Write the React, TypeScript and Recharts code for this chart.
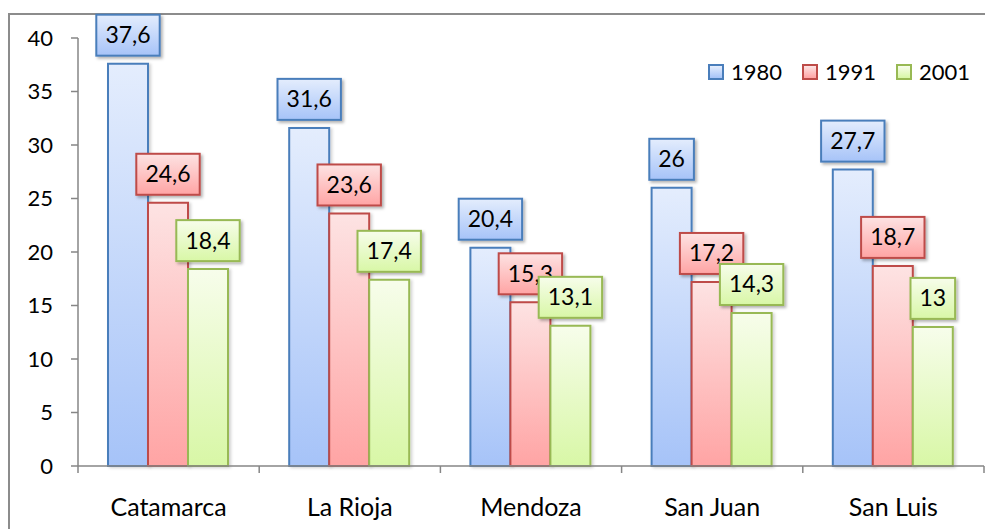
import { Bar, BarChart, LabelList, Legend, XAxis, YAxis } from 'recharts'

const provincias = ['Catamarca', 'La Rioja', 'Mendoza', 'San Juan', 'San Luis']
const v1980 = [37.6, 31.6, 20.4, 26, 27.7]
const v1991 = [24.6, 23.6, 15.3, 17.2, 18.7]
const v2001 = [18.4, 17.4, 13.1, 14.3, 13]
const yTicks = [0, 5, 10, 15, 20, 25, 30, 35, 40]

const series = [
  { key: 'a1980', name: '1980', stroke: '#4a7ebb', top: '#e4edfd', bottom: '#a6c3f8' },
  { key: 'a1991', name: '1991', stroke: '#be4b48', top: '#fde3e3', bottom: '#ffa4a4' },
  { key: 'a2001', name: '2001', stroke: '#98b954', top: '#f7fdeb', bottom: '#d8f7a6' },
]

const data = provincias.map((p, i) => ({
  provincia: p,
  a1980: v1980[i],
  a1991: v1991[i],
  a2001: v2001[i],
}))

const AXIS = '#868686'
const FONT = 'Lato, "Open Sans", sans-serif'

const fmt = (v: number) => String(v).replace('.', ',')

function makeLabel(s: (typeof series)[number]) {
  return (props: any) => {
    const { x, y, width, value } = props
    const text = fmt(Number(value))
    const tw = [...text].reduce((w, c) => w + (c === ',' ? 5.5 : 13.3), 0)
    const bw = tw + 18
    const bh = 41
    const cx = Number(x) + Number(width) / 2
    const by = Number(y) - 8 - bh
    return (
      <g>
        <rect
          x={cx - bw / 2}
          y={by}
          width={bw}
          height={bh}
          fill={`url(#g-${s.key})`}
          stroke={s.stroke}
          strokeWidth={2}
          filter="url(#shadow)"
        />
        <text x={cx} y={by + bh / 2 + 8} textAnchor="middle" fontSize={23} fill="#000">
          {text}
        </text>
      </g>
    )
  }
}

function CategoryTick(props: any) {
  const { x, y, payload, index } = props
  const half = payload.offset ?? 0
  const last = index === provincias.length - 1
  return (
    <g>
      <line x1={x - half} y1={y} x2={x - half} y2={y + 7} stroke={AXIS} strokeWidth={1.5} />
      {last && <line x1={x + half} y1={y} x2={x + half} y2={y + 7} stroke={AXIS} strokeWidth={1.5} />}
      <text x={x} y={y + 50} textAnchor="middle" fontSize={25} fill="#000">
        {payload.value}
      </text>
    </g>
  )
}

function LegendContent(props: any) {
  const { payload = [] } = props
  return (
    <div style={{ display: 'flex', alignItems: 'center', fontFamily: FONT, fontSize: 22 }}>
      {payload.map((p: any) => {
        const s = series.find((x) => x.key === p.dataKey) ?? series[0]
        return (
          <span key={s.key} style={{ display: 'inline-flex', alignItems: 'center', marginRight: 20 }}>
            <span
              style={{
                width: 12,
                height: 12,
                border: `2px solid ${s.stroke}`,
                background: `linear-gradient(${s.top}, ${s.bottom})`,
                marginRight: 7,
              }}
            />
            <span style={{ color: '#000' }}>{p.value}</span>
          </span>
        )
      })}
    </div>
  )
}

export default function App() {
  return (
    <div
      style={{
        position: 'absolute',
        left: 0,
        top: 0,
        width: 985,
        height: 529,
        overflow: 'hidden',
        background: '#fff',
        fontFamily: FONT,
      }}
    >
      <div
        style={{
          position: 'absolute',
          left: 8,
          top: 13,
          right: -10,
          bottom: -10,
          borderLeft: '2px solid #8c8c8c',
          borderTop: '2px solid #8c8c8c',
        }}
      />
      <BarChart
        width={985}
        height={529}
        data={data}
        margin={{ top: 38, right: 1, left: 18, bottom: 23 }}
        barCategoryGap={30}
        barGap={0}
        style={{ fontFamily: FONT }}
      >
        <defs>
          {series.map((s) => (
            <linearGradient key={s.key} id={`g-${s.key}`} x1="0" y1="0" x2="0" y2="1">
              <stop offset="0%" stopColor={s.top} />
              <stop offset="100%" stopColor={s.bottom} />
            </linearGradient>
          ))}
          <filter id="shadow" x="-20%" y="-20%" width="150%" height="150%">
            <feDropShadow dx="2" dy="2" stdDeviation="1.5" floodColor="#000" floodOpacity="0.3" />
          </filter>
          <filter id="barShadow" x="-20%" y="-5%" width="150%" height="115%">
            <feDropShadow dx="2" dy="1" stdDeviation="1.5" floodColor="#000" floodOpacity="0.18" />
          </filter>
        </defs>
        <XAxis
          dataKey="provincia"
          axisLine={{ stroke: AXIS, strokeWidth: 1.5 }}
          tickLine={false}
          tickSize={0}
          tickMargin={0}
          height={40}
          interval={0}
          tick={<CategoryTick />}
        />
        <YAxis
          domain={[0, 40]}
          ticks={yTicks}
          interval={0}
          width={60}
          axisLine={{ stroke: AXIS, strokeWidth: 1.5 }}
          tickLine={{ stroke: AXIS, strokeWidth: 1.5 }}
          tickSize={7}
          tickMargin={18}
          tick={{ fill: '#000', fontSize: 22 }}
        />
        <Legend
          layout="vertical"
          align="center"
          verticalAlign="middle"
          wrapperStyle={{ top: 58, left: 708, width: 'auto' }}
          content={<LegendContent />}
        />
        {series.map((s) => (
          <Bar
            key={s.key}
            dataKey={s.key}
            name={s.name}
            fill={`url(#g-${s.key})`}
            stroke={s.stroke}
            strokeWidth={2}
            filter="url(#barShadow)"
            isAnimationActive={false}
          >
            <LabelList dataKey={s.key} content={makeLabel(s)} />
          </Bar>
        ))}
      </BarChart>
    </div>
  )
}
